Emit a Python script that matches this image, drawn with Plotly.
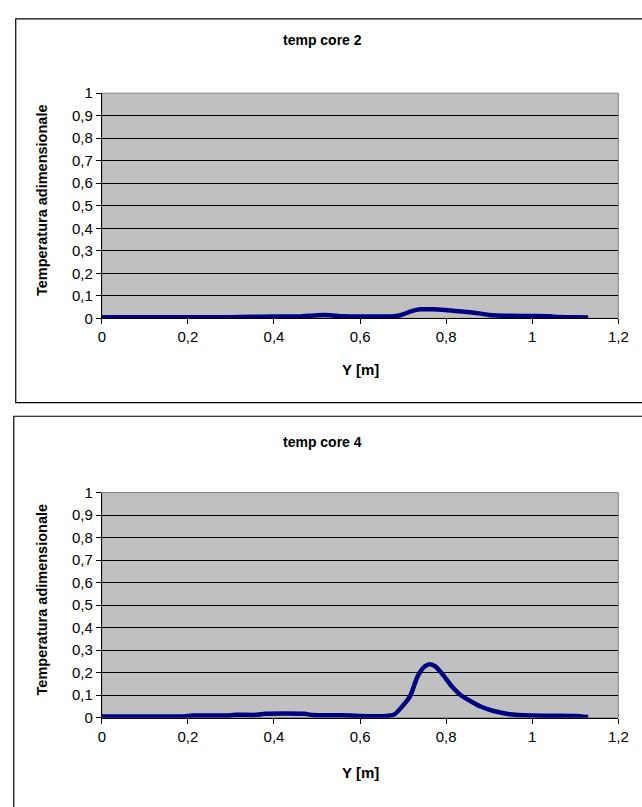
import plotly.graph_objects as go

# ---- data ----
x_core2 = [0.0, 0.10, 0.20, 0.30, 0.35, 0.40, 0.46, 0.50, 0.53, 0.56, 0.62, 0.68, 0.70, 0.72,
           0.74, 0.77, 0.79, 0.82, 0.85, 0.88, 0.90, 0.95, 1.00, 1.04, 1.06, 1.10, 1.13]
y_core2 = [0.005, 0.005, 0.005, 0.005, 0.007, 0.008, 0.008, 0.014, 0.014, 0.009, 0.008, 0.009, 0.018, 0.032,
           0.040, 0.040, 0.038, 0.033, 0.028, 0.021, 0.015, 0.011, 0.010, 0.009, 0.006, 0.005, 0.004]

x_core4 = [0.0, 0.10, 0.19, 0.21, 0.29, 0.31, 0.36, 0.38, 0.47, 0.49, 0.56, 0.60, 0.66, 0.68, 0.70,
           0.716, 0.734, 0.75, 0.762, 0.775, 0.795, 0.815, 0.834, 0.86, 0.88, 0.91, 0.947, 1.00, 1.05, 1.10, 1.13]
y_core4 = [0.005, 0.005, 0.006, 0.010, 0.010, 0.013, 0.013, 0.018, 0.018, 0.012, 0.011, 0.008, 0.008, 0.015, 0.055,
           0.095, 0.185, 0.228, 0.238, 0.228, 0.185, 0.135, 0.100, 0.070, 0.050, 0.030, 0.016, 0.010, 0.009, 0.008, 0.003]

x_tickvals = [0, 0.2, 0.4, 0.6, 0.8, 1.0, 1.2]
x_ticktext = ["0", "0,2", "0,4", "0,6", "0,8", "1", "1,2"]
y_tickvals = [0, 0.1, 0.2, 0.3, 0.4, 0.5, 0.6, 0.7, 0.8, 0.9, 1.0]
y_ticktext = ["0", "0,1", "0,2", "0,3", "0,4", "0,5", "0,6", "0,7", "0,8", "0,9", "1"]

titles = ["temp core 2", "temp core 4"]
x_title = "Y [m]"
y_title = "Temperatura adimensionale"

# ---- layout geometry (pixels) ----
W, H = 642, 807
def px(x):
    return x / W
def py(y):
    return 1 - y / H

FONT = "Liberation Sans, Arial, sans-serif"
LINE_COLOR = "#000080"

fig = go.Figure()
fig.add_trace(go.Scatter(x=x_core2, y=y_core2, mode="lines", line=dict(color=LINE_COLOR, width=4.5, shape="spline", smoothing=0.6),
                         xaxis="x", yaxis="y", showlegend=False))
fig.add_trace(go.Scatter(x=x_core4, y=y_core4, mode="lines", line=dict(color=LINE_COLOR, width=4.5, shape="spline", smoothing=0.6),
                         xaxis="x2", yaxis="y2", showlegend=False))

plot_left, plot_right = 100, 628
panels = [
    dict(top=86, bottom=316, frame=(12, 10, 660, 402), title_y=32, xt_y=368, xa="x", ya="y"),
    dict(top=494, bottom=724, frame=(10, 416, 660, 830), title_y=442, xt_y=780, xa="x2", ya="y2"),
]

axis_common_x = dict(range=[0, 1.2], tickvals=x_tickvals, ticktext=x_ticktext, showgrid=False, zeroline=False,
                     showline=True, linecolor="black", linewidth=1, ticks="outside", ticklen=5, tickcolor="black",
                     tickfont=dict(family=FONT, size=15, color="black"), fixedrange=True)
axis_common_y = dict(range=[0, 1.0], tickvals=y_tickvals, ticktext=y_ticktext, showgrid=True, gridcolor="black",
                     gridwidth=1, zeroline=False, showline=True, linecolor="black", linewidth=1, ticks="outside",
                     ticklen=5, tickcolor="black", tickfont=dict(family=FONT, size=15, color="black"), fixedrange=True)

shapes = []
annotations = []
layout_axes = {}
for i, p in enumerate(panels):
    xd = [px(plot_left), px(plot_right)]
    yd = [py(p["bottom"]), py(p["top"])]
    xkey = "xaxis" if i == 0 else "xaxis2"
    ykey = "yaxis" if i == 0 else "yaxis2"
    layout_axes[xkey] = dict(axis_common_x, domain=xd, anchor=p["ya"])
    layout_axes[ykey] = dict(axis_common_y, domain=yd, anchor=p["xa"])
    shapes.append(dict(type="rect", xref="paper", yref="paper", x0=xd[0], x1=xd[1], y0=yd[0], y1=yd[1],
                       fillcolor="#C0C0C0", line=dict(color="#808080", width=1), layer="below"))
    fx0, fy0, fx1, fy1 = p["frame"]
    shapes.append(dict(type="rect", xref="paper", yref="paper", x0=px(fx0), x1=px(fx1), y0=py(fy1), y1=py(fy0),
                       fillcolor="rgba(0,0,0,0)", line=dict(color="black", width=1.2), layer="below"))
    annotations.append(dict(text="<b>" + titles[i] + "</b>", xref="paper", yref="paper", x=px(326), y=py(p["title_y"]),
                            showarrow=False, font=dict(family=FONT, size=14, color="black"), xanchor="center", yanchor="middle"))
    annotations.append(dict(text="<b>" + x_title + "</b>", xref="paper", yref="paper", x=px(364), y=py(p["xt_y"]),
                            showarrow=False, font=dict(family=FONT, size=15, color="black"), xanchor="center", yanchor="middle"))
    annotations.append(dict(text="<b>" + y_title + "</b>", xref="paper", yref="paper", x=px(39),
                            y=py((p["top"] + p["bottom"]) / 2 - 6), textangle=-90,
                            showarrow=False, font=dict(family=FONT, size=14.5, color="black"), xanchor="center", yanchor="middle"))

fig.update_layout(width=W, height=H, margin=dict(l=0, r=0, t=0, b=0), paper_bgcolor="white",
                  plot_bgcolor="rgba(0,0,0,0)", shapes=shapes, annotations=annotations, showlegend=False,
                  font=dict(family=FONT), **layout_axes)

fig.write_html("out.html", config={"displayModeBar": False},
               post_script="document.body.style.margin='0';document.body.style.overflow='hidden';")
